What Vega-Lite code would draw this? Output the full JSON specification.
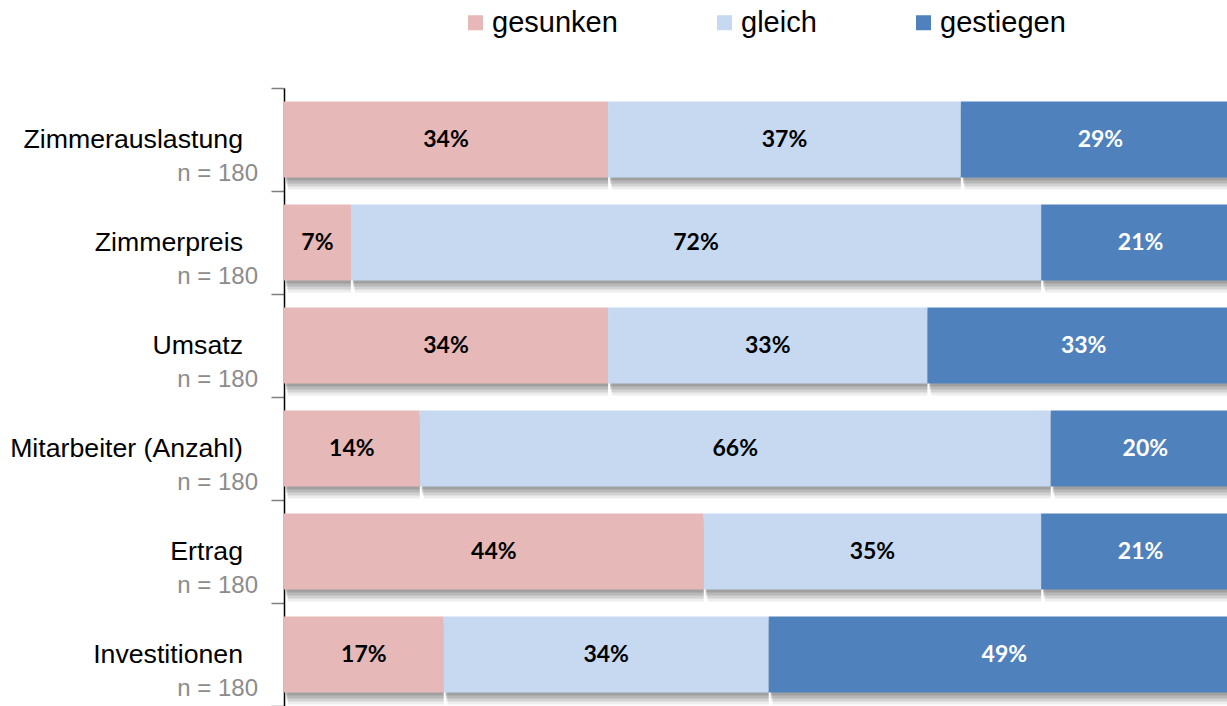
{
  "$schema": "https://vega.github.io/schema/vega-lite/v6.json",
  "width": 943,
  "height": 618,
  "autosize": {"type": "none"},
  "padding": {"left": 284, "top": 88, "right": 0, "bottom": 0},
  "background": "white",
  "config": {"view": {"stroke": null}, "font": "Liberation Sans"},
  "data": {
    "values": [
      {"cat": "Zimmerauslastung", "dir": "gesunken", "ord": 1, "pct": 33.9, "n": 180},
      {"cat": "Zimmerauslastung", "dir": "gleich", "ord": 2, "pct": 36.9, "n": 180},
      {"cat": "Zimmerauslastung", "dir": "gestiegen", "ord": 3, "pct": 29.2, "n": 180},
      {"cat": "Zimmerpreis", "dir": "gesunken", "ord": 1, "pct": 7.0, "n": 180},
      {"cat": "Zimmerpreis", "dir": "gleich", "ord": 2, "pct": 72.2, "n": 180},
      {"cat": "Zimmerpreis", "dir": "gestiegen", "ord": 3, "pct": 20.8, "n": 180},
      {"cat": "Umsatz", "dir": "gesunken", "ord": 1, "pct": 33.9, "n": 180},
      {"cat": "Umsatz", "dir": "gleich", "ord": 2, "pct": 33.4, "n": 180},
      {"cat": "Umsatz", "dir": "gestiegen", "ord": 3, "pct": 32.7, "n": 180},
      {"cat": "Mitarbeiter (Anzahl)", "dir": "gesunken", "ord": 1, "pct": 14.2, "n": 180},
      {"cat": "Mitarbeiter (Anzahl)", "dir": "gleich", "ord": 2, "pct": 66.0, "n": 180},
      {"cat": "Mitarbeiter (Anzahl)", "dir": "gestiegen", "ord": 3, "pct": 19.8, "n": 180},
      {"cat": "Ertrag", "dir": "gesunken", "ord": 1, "pct": 43.9, "n": 180},
      {"cat": "Ertrag", "dir": "gleich", "ord": 2, "pct": 35.3, "n": 180},
      {"cat": "Ertrag", "dir": "gestiegen", "ord": 3, "pct": 20.8, "n": 180},
      {"cat": "Investitionen", "dir": "gesunken", "ord": 1, "pct": 16.7, "n": 180},
      {"cat": "Investitionen", "dir": "gleich", "ord": 2, "pct": 34.0, "n": 180},
      {"cat": "Investitionen", "dir": "gestiegen", "ord": 3, "pct": 49.3, "n": 180}
    ]
  },
  "transform": [
    {"stack": "pct", "groupby": ["cat"], "sort": [{"field": "ord"}], "as": ["x0", "x1"]},
    {"calculate": "(datum.x0 + datum.x1) / 2", "as": "mid"},
    {"calculate": "format(datum.pct, '.0f') + '%'", "as": "lbl"},
    {"calculate": "'n = ' + datum.n", "as": "nlbl"}
  ],
  "encoding": {
    "y": {
      "field": "cat",
      "type": "nominal",
      "sort": ["Zimmerauslastung", "Zimmerpreis", "Umsatz", "Mitarbeiter (Anzahl)", "Ertrag", "Investitionen"],
      "scale": {"paddingInner": 0, "paddingOuter": 0},
      "axis": {
        "title": null,
        "labels": false,
        "tickBand": "extent",
        "ticks": true,
        "tickSize": 13,
        "tickColor": "#7f7f7f",
        "tickWidth": 1.5,
        "domainColor": "black",
        "domainWidth": 1.5,
        "grid": false
      }
    }
  },
  "layer": [
    {
      "mark": {"type": "bar", "height": {"band": 0.74}, "color": "#6a6a6a", "opacity": 0.12, "yOffset": 12, "y2Offset": 12, "xOffset": 4, "clip": true},
      "encoding": {
        "x": {"field": "x0", "type": "quantitative", "scale": {"domain": [0, 98.64], "nice": false}, "axis": null},
        "x2": {"field": "x1"}
      }
    },
    {
      "mark": {"type": "bar", "height": {"band": 0.74}, "color": "#6a6a6a", "opacity": 0.2, "yOffset": 9, "y2Offset": 9, "xOffset": 3, "clip": true},
      "encoding": {
        "x": {"field": "x0", "type": "quantitative", "scale": {"domain": [0, 98.64], "nice": false}, "axis": null},
        "x2": {"field": "x1"}
      }
    },
    {
      "mark": {"type": "bar", "height": {"band": 0.74}, "color": "#6a6a6a", "opacity": 0.25, "yOffset": 6, "y2Offset": 6, "xOffset": 2, "clip": true},
      "encoding": {
        "x": {"field": "x0", "type": "quantitative", "scale": {"domain": [0, 98.64], "nice": false}, "axis": null},
        "x2": {"field": "x1"}
      }
    },
    {
      "mark": {"type": "bar", "height": {"band": 0.74}, "color": "#6a6a6a", "opacity": 0.3, "yOffset": 3, "y2Offset": 3, "xOffset": 2, "clip": true},
      "encoding": {
        "x": {"field": "x0", "type": "quantitative", "scale": {"domain": [0, 98.64], "nice": false}, "axis": null},
        "x2": {"field": "x1"}
      }
    },
    {
      "mark": {"type": "bar", "height": {"band": 0.74}, "clip": true},
      "encoding": {
        "x": {"field": "x0", "type": "quantitative", "scale": {"domain": [0, 98.64], "nice": false}, "axis": null},
        "x2": {"field": "x1"},
        "color": {
          "field": "dir",
          "type": "nominal",
          "scale": {"domain": ["gesunken", "gleich", "gestiegen"], "range": ["#E6B9B8", "#C6D9F1", "#4F81BD"]},
          "legend": {
            "title": null,
            "orient": "none",
            "legendX": 177,
            "legendY": -80,
            "direction": "horizontal",
            "symbolType": "square",
            "symbolSize": 225,
            "symbolStrokeWidth": 0,
            "labelFontSize": 29,
            "labelFont": "Liberation Sans",
            "labelColor": "black",
            "columnPadding": 92,
            "labelOffset": 2,
            "padding": 0,
            "labelLimit": 300
          }
        }
      }
    },
    {
      "mark": {"type": "text", "font": "Lato", "fontWeight": "bold", "fontSize": 23, "baseline": "middle"},
      "encoding": {
        "x": {"field": "mid", "type": "quantitative", "scale": {"domain": [0, 98.64], "nice": false}, "axis": null},
        "text": {"field": "lbl"},
        "color": {"condition": {"test": "datum.dir === 'gestiegen'", "value": "white"}, "value": "black"}
      }
    },
    {
      "transform": [{"filter": "datum.ord === 1"}],
      "mark": {"type": "text", "align": "right", "baseline": "middle", "dx": -41, "dy": 0, "fontSize": 26.7, "font": "Liberation Sans", "color": "black"},
      "encoding": {
        "x": {"datum": 0, "type": "quantitative", "scale": {"domain": [0, 98.64], "nice": false}, "axis": null},
        "text": {"field": "cat"}
      }
    },
    {
      "transform": [{"filter": "datum.ord === 1"}],
      "mark": {"type": "text", "align": "right", "baseline": "middle", "dx": -26, "dy": 34, "fontSize": 24, "font": "Liberation Sans", "color": "#8c8c8c"},
      "encoding": {
        "x": {"datum": 0, "type": "quantitative", "scale": {"domain": [0, 98.64], "nice": false}, "axis": null},
        "text": {"field": "nlbl"}
      }
    }
  ]
}
